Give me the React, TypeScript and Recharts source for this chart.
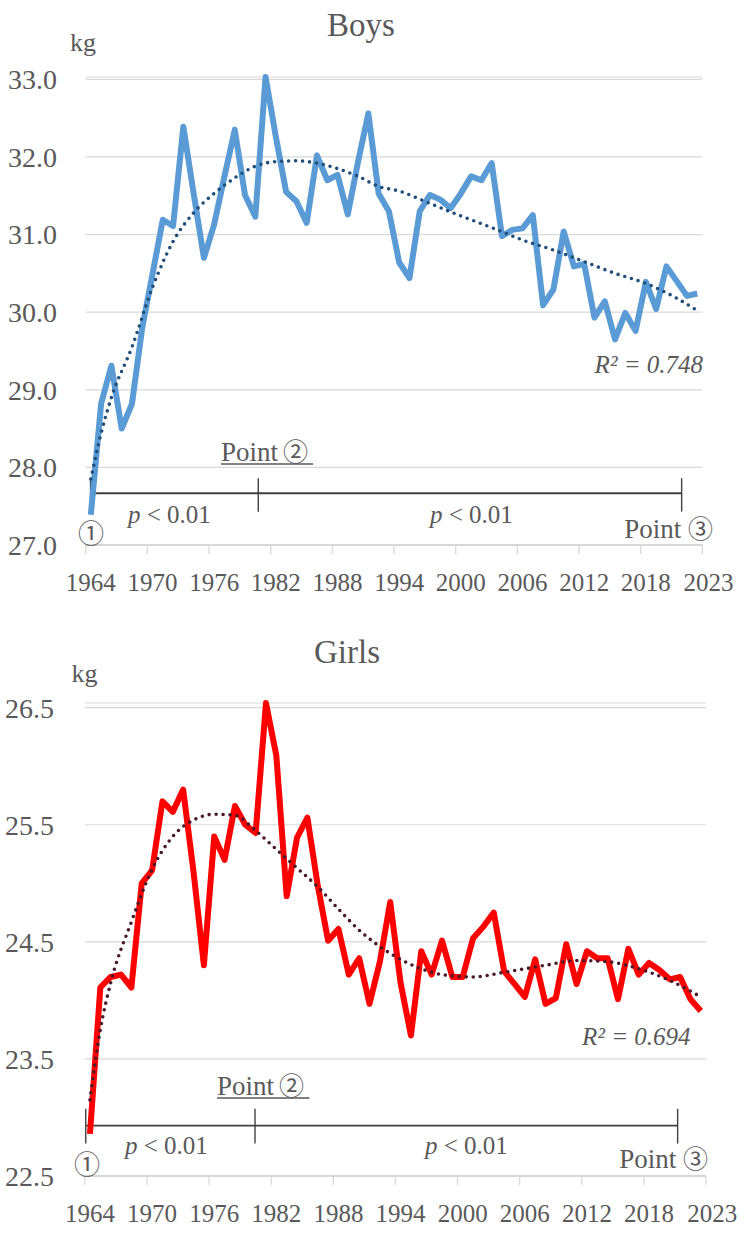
import React from 'react';
import { CartesianGrid, Line, LineChart, ReferenceLine, XAxis, YAxis } from 'recharts';

// --- data ---

const YEARS = [
  1964, 1965, 1966, 1967, 1968, 1969, 1970, 1971, 1972, 1973,
  1974, 1975, 1976, 1977, 1978, 1979, 1980, 1981, 1982, 1983,
  1984, 1985, 1986, 1987, 1988, 1989, 1990, 1991, 1992, 1993,
  1994, 1995, 1996, 1997, 1998, 1999, 2000, 2001, 2002, 2003,
  2004, 2005, 2006, 2007, 2008, 2009, 2010, 2011, 2012, 2013,
  2014, 2015, 2016, 2017, 2018, 2019, 2020, 2021, 2022, 2023,
];

const BOYS = [
  27.39, 28.82, 29.31, 28.5, 28.82, 29.8, 30.49, 31.19, 31.11, 32.39,
  31.53, 30.7, 31.13, 31.75, 32.35, 31.51, 31.23, 33.03, 32.26, 31.55,
  31.43, 31.15, 32.02, 31.7, 31.77, 31.26, 31.94, 32.56, 31.53, 31.3,
  30.64, 30.44, 31.3, 31.51, 31.45, 31.34, 31.53, 31.75, 31.7, 31.92,
  30.98, 31.06, 31.08, 31.25, 30.09, 30.29, 31.04, 30.59, 30.62, 29.93,
  30.14, 29.65, 29.99, 29.76, 30.39, 30.04, 30.59, 30.4, 30.21, 30.24,
];

const GIRLS = [
  22.86, 24.11, 24.2, 24.22, 24.11, 25.0, 25.11, 25.7, 25.61, 25.8,
  25.1, 24.3, 25.4, 25.2, 25.66, 25.5, 25.43, 26.54, 26.09, 24.89,
  25.39, 25.56, 24.98, 24.51, 24.61, 24.22, 24.36, 23.97, 24.33, 24.84,
  24.15, 23.7, 24.42, 24.22, 24.51, 24.2, 24.2, 24.53, 24.63, 24.75,
  24.25, 24.14, 24.03, 24.35, 23.97, 24.02, 24.48, 24.14, 24.42, 24.36,
  24.36, 24.01, 24.44, 24.22, 24.32, 24.26, 24.18, 24.2, 24.01, 23.91,
];

// polynomial trend lines
const BOYS_TREND_YEARS = [
  1964, 1965, 1966, 1968, 1970, 1972, 1974, 1976, 1978, 1980, 1982, 1984, 1986,
  1988, 1990, 1992, 1994, 1997, 2000, 2003, 2006, 2009, 2012, 2015, 2018, 2021, 2023,
];
const BOYS_TREND = [
  27.85, 28.44, 28.9, 29.55, 30.32, 30.91, 31.28, 31.53, 31.73, 31.88, 31.94, 31.95, 31.92,
  31.85, 31.75, 31.62, 31.56, 31.4, 31.24, 31.09, 30.93, 30.8, 30.65, 30.5, 30.37, 30.18, 30.02,
];

const GIRLS_TREND_YEARS = [
  1964, 1965, 1966, 1968, 1970, 1972, 1974, 1976, 1978, 1980, 1982, 1984, 1986,
  1988, 1990, 1992, 1994, 1996, 1998, 2001, 2004, 2008, 2011, 2014, 2017, 2020, 2023,
];
const GIRLS_TREND = [
  23.15, 23.75, 24.15, 24.67, 25.12, 25.4, 25.54, 25.59, 25.58, 25.45, 25.29, 25.13, 24.97,
  24.78, 24.6, 24.46, 24.35, 24.27, 24.22, 24.2, 24.24, 24.3, 24.34, 24.33, 24.27, 24.17, 24.03,
];

// tick marks sit between years, labels under the year itself
const TICK_MARKS = [1963.5, 1969.5, 1975.5, 1981.5, 1987.5, 1993.5, 1999.5, 2005.5, 2011.5, 2017.5, 2023.5];
const TICK_LABELS = [1964, 1970, 1976, 1982, 1988, 1994, 2000, 2006, 2012, 2018, 2023];

const BOYS_Y_TICKS = [27, 28, 29, 30, 31, 32, 33];
const GIRLS_Y_TICKS = [22.5, 23.5, 24.5, 25.5, 26.5];

const FONT = "'Liberation Serif', serif";
const CIRCLED = "'Noto Sans CJK JP', 'DejaVu Sans', sans-serif";
const TEXT = '#595959';
const GRID = '#d9d9d9';

const buildRows = (values: number[], trendYears: number[], trend: number[]) =>
  YEARS.map((year, i) => {
    const t = trendYears.indexOf(year);
    return { year, value: values[i], trend: t >= 0 ? trend[t] : null };
  });

const yearTick = (pxPerYear: number) => (props: any) => {
  const { x, y, payload } = props;
  const i = TICK_MARKS.indexOf(payload.value);
  if (i < 0) return <g />;
  const label = TICK_LABELS[i];
  // the last label (2023) hangs just past the axis end, as in the original
  const shift = i === TICK_MARKS.length - 1 ? 0.6 : label - TICK_MARKS[i];
  return (
    <text
      x={x + shift * pxPerYear}
      y={y}
      dy={36.5}
      textAnchor="middle"
      fill={TEXT}
      fontSize={25}
      fontFamily={FONT}
    >
      {label}
    </text>
  );
};

interface KgChartProps {
  rows: { year: number; value: number; trend: number | null }[];
  height: number;
  margin: { top: number; right: number; bottom: number; left: number };
  yWidth: number;
  xHeight: number;
  yMargin: number;
  domain: [number, number];
  yTicks: number[];
  color: string;
  trendColor: string;
  bracketY: number;
  bracketTop: number;
  bracketBottom: number;
  points: number[];
}

const KgChart: React.FC<KgChartProps> = (p) => {
  const pxPerYear = (746 - p.margin.left - p.margin.right - p.yWidth) / 60;
  return (
    <LineChart width={746} height={p.height} data={p.rows} margin={p.margin}>
      <CartesianGrid vertical={false} stroke={GRID} strokeWidth={1.2} />
      <XAxis
        type="number"
        dataKey="year"
        domain={[1963.5, 2023.5]}
        ticks={TICK_MARKS}
        interval={0}
        height={p.xHeight}
        tickSize={9}
        tickMargin={0}
        tickLine={{ stroke: GRID, strokeWidth: 1.3 }}
        axisLine={{ stroke: '#d0d0d0', strokeWidth: 1.6 }}
        tick={yearTick(pxPerYear)}
      />
      <YAxis
        type="number"
        domain={p.domain}
        ticks={p.yTicks}
        interval={0}
        width={p.yWidth}
        axisLine={false}
        tickLine={false}
        tickSize={0}
        tickMargin={p.yMargin}
        tickFormatter={(v: number) => v.toFixed(1)}
        tick={{ fill: TEXT, fontSize: 28, fontFamily: FONT }}
      />
      <ReferenceLine
        segment={[{ x: p.points[0], y: p.bracketY }, { x: p.points[2], y: p.bracketY }]}
        stroke="#404040"
        strokeWidth={1.8}
      />
      {p.points.map((x) => (
        <ReferenceLine
          key={x}
          segment={[{ x, y: p.bracketTop }, { x, y: p.bracketBottom }]}
          stroke="#404040"
          strokeWidth={1.4}
        />
      ))}
      <Line
        dataKey="value"
        type="linear"
        stroke={p.color}
        strokeWidth={6}
        strokeLinejoin="round"
        dot={false}
        activeDot={false}
        isAnimationActive={false}
      />
      <Line
        dataKey="trend"
        type="monotone"
        connectNulls
        stroke={p.trendColor}
        strokeWidth={3.6}
        strokeDasharray="0 7"
        strokeLinecap="round"
        dot={false}
        activeDot={false}
        isAnimationActive={false}
      />
    </LineChart>
  );
};

const Notes: React.FC = () => {
  const t = { fill: TEXT, fontFamily: FONT };
  return (
    <svg width={746} height={1240} style={{ position: 'absolute', left: 0, top: 0, pointerEvents: 'none' }}>
      {/* Boys */}
      <text x={361} y={36} textAnchor="middle" fontSize={33} {...t}>Boys</text>
      <text x={70} y={51} fontSize={26} {...t}>kg</text>
      <text x={221} y={461} fontSize={27} {...t}>
        Point<tspan dx={5} fontFamily={CIRCLED} fontSize={25}>②</tspan>
      </text>
      <line x1={221} x2={313} y1={464} y2={464} stroke={TEXT} strokeWidth={1.3} />
      <text x={128} y={523} fontSize={25} {...t}><tspan fontStyle="italic">p</tspan> &lt; 0.01</text>
      <text x={430} y={523} fontSize={25} {...t}><tspan fontStyle="italic">p</tspan> &lt; 0.01</text>
      <text x={91} y={531} textAnchor="middle" dominantBaseline="central" fontSize={26} fill={TEXT} fontFamily={CIRCLED}>①</text>
      <text x={713} y={537.5} textAnchor="end" fontSize={27} {...t}>
        Point <tspan fontFamily={CIRCLED} fontSize={25}>③</tspan>
      </text>
      <text x={703} y={373} textAnchor="end" fontSize={25} fontStyle="italic" {...t}>R² = 0.748</text>

      {/* Girls */}
      <text x={347} y={663} textAnchor="middle" fontSize={33} {...t}>Girls</text>
      <text x={71.5} y={682} fontSize={26} {...t}>kg</text>
      <text x={217} y={1095} fontSize={27} {...t}>
        Point<tspan dx={5} fontFamily={CIRCLED} fontSize={25}>②</tspan>
      </text>
      <line x1={217} x2={309.5} y1={1098} y2={1098} stroke={TEXT} strokeWidth={1.3} />
      <text x={125} y={1154} fontSize={25} {...t}><tspan fontStyle="italic">p</tspan> &lt; 0.01</text>
      <text x={425} y={1154} fontSize={25} {...t}><tspan fontStyle="italic">p</tspan> &lt; 0.01</text>
      <text x={87} y={1162.5} textAnchor="middle" dominantBaseline="central" fontSize={26} fill={TEXT} fontFamily={CIRCLED}>①</text>
      <text x={708} y={1168} textAnchor="end" fontSize={27} {...t}>
        Point <tspan fontFamily={CIRCLED} fontSize={25}>③</tspan>
      </text>
      <text x={690.5} y={1045} textAnchor="end" fontSize={25} fontStyle="italic" {...t}>R² = 0.694</text>
    </svg>
  );
};

const App: React.FC = () => {
  const boysRows = buildRows(BOYS, BOYS_TREND_YEARS, BOYS_TREND);
  const girlsRows = buildRows(GIRLS, GIRLS_TREND_YEARS, GIRLS_TREND);
  return (
    <div style={{ position: 'absolute', left: 0, top: 0, width: 746, height: 1240, background: '#fff' }}>
      <div style={{ position: 'absolute', left: 0, top: 0 }}>
        <KgChart
          rows={boysRows}
          height={600}
          margin={{ top: 77, right: 43.6, bottom: 0, left: 0 }}
          yWidth={85.7}
          xHeight={55}
          yMargin={28.7}
          domain={[27, 33]}
          yTicks={BOYS_Y_TICKS}
          color="#5b9bd5"
          trendColor="#1f4e79"
          bracketY={27.667}
          bracketTop={27.86}
          bracketBottom={27.43}
          points={[1963.97, 1980.29, 2021.48]}
        />
      </div>
      <div style={{ position: 'absolute', left: 0, top: 620 }}>
        <KgChart
          rows={girlsRows}
          height={620}
          margin={{ top: 83, right: 40, bottom: 0, left: 0 }}
          yWidth={84.8}
          xHeight={64}
          yMargin={30.8}
          domain={[22.5, 26.5]}
          yTicks={GIRLS_Y_TICKS}
          color="#ff0000"
          trendColor="#4a1a2c"
          bracketY={22.93}
          bracketTop={23.074}
          bracketBottom={22.777}
          points={[1963.59, 1979.94, 2020.76]}
        />
      </div>
      <Notes />
    </div>
  );
};

export default App;
